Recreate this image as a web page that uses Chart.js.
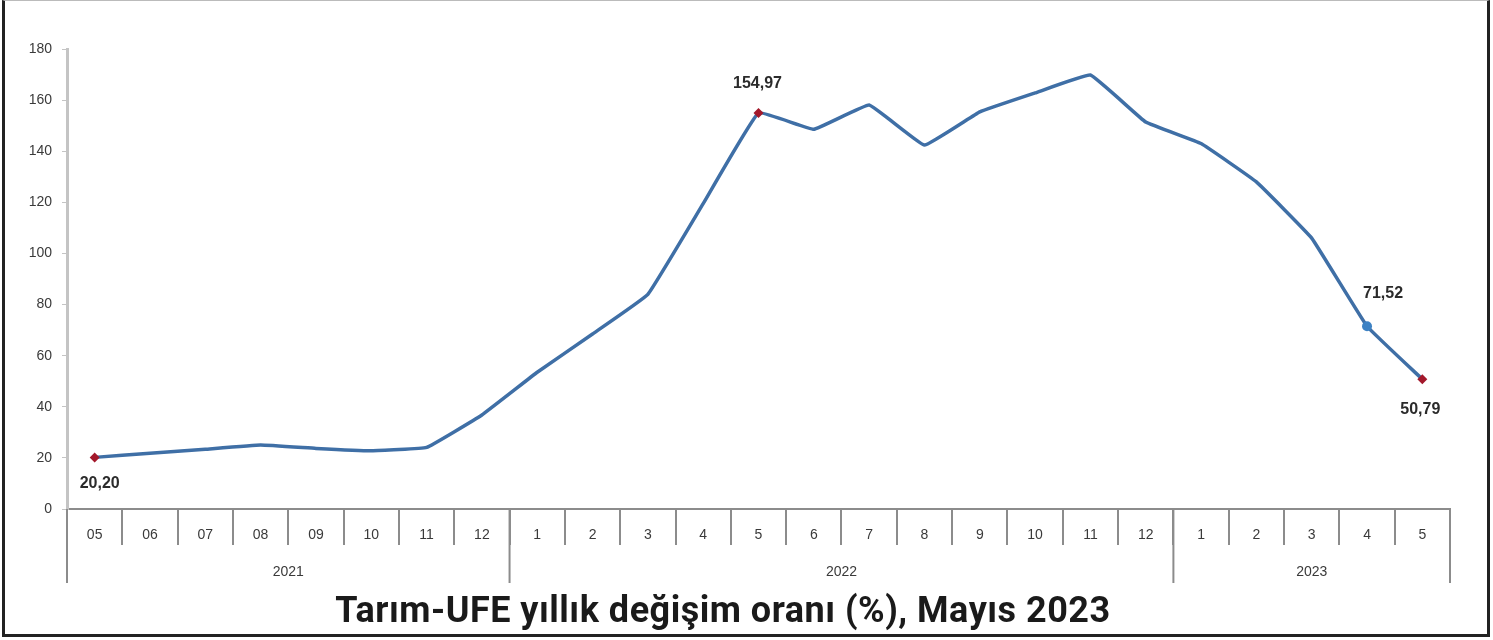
<!DOCTYPE html>
<html lang="tr">
<head>
<meta charset="utf-8">
<title>Tarım-UFE yıllık değişim oranı</title>
<script src="https://cdn.jsdelivr.net/npm/chart.js@4/dist/chart.umd.min.js"></script>
<style>
  html, body { margin: 0; padding: 0; background: #fff; }
  #wrap { position: relative; width: 1493px; height: 640px; }
  #frame {
    position: absolute; left: 2px; top: 0; width: 1488px; height: 637px;
    box-sizing: border-box; border: 3px solid #222; border-top: 1px solid #bbb;
    pointer-events: none;
  }
</style>
</head>
<body>
<div id="wrap">
  <canvas id="chart" width="1493" height="640"></canvas>
  <div id="frame"></div>
</div>
<script>
const monthLabels = [
  "05", "06", "07", "08", "09", "10", "11", "12",
  "1", "2", "3", "4", "5", "6", "7", "8", "9", "10", "11", "12",
  "1", "2", "3", "4", "5",
];
const years = ["2021", "2022", "2023"];
const yearSizes = [8, 12, 5];
const rates = [
  20.20, 21.8, 23.4, 25.0, 23.7, 22.8, 24.1, 36.8,
  53.5, 68.5, 84.0, 119.5, 154.97, 148.6, 158.1, 142.4, 155.4, 162.8, 169.8, 151.4,
  143.0, 128.0, 106.0, 71.52, 50.79,
];
const yTicks = [0, 20, 40, 60, 80, 100, 120, 140, 160, 180];
const labelledPoints = [0, 12, 23, 24];
const title = "Tarım-UFE yıllık değişim oranı (%), Mayıs 2023";

const lineColor = "#3f6fa6";
const redMarker = "#a3182b";
const blueMarker = "#3d82c4";
const axisGray = "#8c8c8c";

// where the value text sits relative to its point
const labelOffsets = { 0: [5, 26], 12: [-1, -29], 23: [16, -33], 24: [-2, 30] };

function fmt(v) {
  return v.toFixed(2).replace(".", ",");
}

const decorPlugin = {
  id: "decor",
  afterDraw(chart) {
    const { ctx, scales } = chart;
    const x = scales.x;
    const y = scales.y;
    const meta = chart.getDatasetMeta(0);
    const axisY = y.getPixelForValue(0);

    // year group separators and labels
    ctx.save();
    ctx.strokeStyle = axisGray;
    ctx.lineWidth = 2;
    const half = (x.getPixelForValue(1) - x.getPixelForValue(0)) / 2;
    let start = 0;
    const bounds = [x.getPixelForValue(0) - half];
    years.forEach((yr, i) => {
      const end = start + yearSizes[i] - 1;
      bounds.push(x.getPixelForValue(end) + half);
      const cx = (x.getPixelForValue(start) + x.getPixelForValue(end)) / 2;
      ctx.fillStyle = "#3a3a3a";
      ctx.font = "14px 'Liberation Sans', Arial, sans-serif";
      ctx.textAlign = "center";
      ctx.textBaseline = "middle";
      ctx.fillText(yr, cx, axisY + 63);
      start = end + 1;
    });
    bounds.forEach((bx) => {
      ctx.beginPath();
      ctx.moveTo(bx, axisY);
      ctx.lineTo(bx, axisY + 74);
      ctx.stroke();
    });

    // value labels
    ctx.fillStyle = "#2b2b2b";
    ctx.font = "bold 16px 'Liberation Sans', Arial, sans-serif";
    ctx.textAlign = "center";
    ctx.textBaseline = "middle";
    labelledPoints.forEach((i) => {
      const pt = meta.data[i];
      const off = labelOffsets[i];
      ctx.fillText(fmt(rates[i]), pt.x + off[0], pt.y + off[1]);
    });

    // title
    ctx.fillStyle = "#1a1a1a";
    ctx.font = "bold 36px 'Roboto', sans-serif";
    ctx.letterSpacing = "0.5px";
    ctx.textBaseline = "alphabetic";
    ctx.fillText(title, 723, 622);
    ctx.restore();
  },
};

new Chart(document.getElementById("chart"), {
  type: "line",
  data: {
    labels: monthLabels,
    datasets: [
      {
        data: rates,
        borderColor: lineColor,
        borderWidth: 3.5,
        tension: 0.08,
        pointStyle: (c) => (c.dataIndex === 23 ? "circle" : "rectRot"),
        pointRadius: (c) => (labelledPoints.includes(c.dataIndex) ? 5 : 0),
        pointBackgroundColor: (c) => (c.dataIndex === 23 ? blueMarker : redMarker),
        pointBorderWidth: 0,
      },
    ],
  },
  options: {
    responsive: false,
    animation: false,
    layout: { padding: { left: 0, top: 49, right: 43, bottom: 0 } },
    plugins: { legend: { display: false }, tooltip: { enabled: false } },
    scales: {
      x: {
        offset: true,
        afterFit: (s) => { s.height = 131; },
        border: { color: axisGray, width: 2 },
        grid: { offset: true, drawOnChartArea: false, tickLength: 36, color: axisGray, lineWidth: 2 },
        ticks: {
          padding: -18,
          color: "#3a3a3a",
          font: { family: "'Liberation Sans', Arial, sans-serif", size: 14 },
          maxRotation: 0,
          autoSkip: false,
        },
      },
      y: {
        min: 0,
        max: 180,
        afterFit: (s) => { s.width = 67; },
        afterBuildTicks: (s) => { s.ticks = yTicks.map((v) => ({ value: v })); },
        border: { color: "#c4c4c4", width: 3 },
        grid: { drawOnChartArea: false, tickLength: 5, color: "#c4c4c4" },
        ticks: {
          padding: 10,
          color: "#3a3a3a",
          font: { family: "'Liberation Sans', Arial, sans-serif", size: 14 },
        },
      },
    },
  },
  plugins: [decorPlugin],
});
</script>
</body>
</html>
